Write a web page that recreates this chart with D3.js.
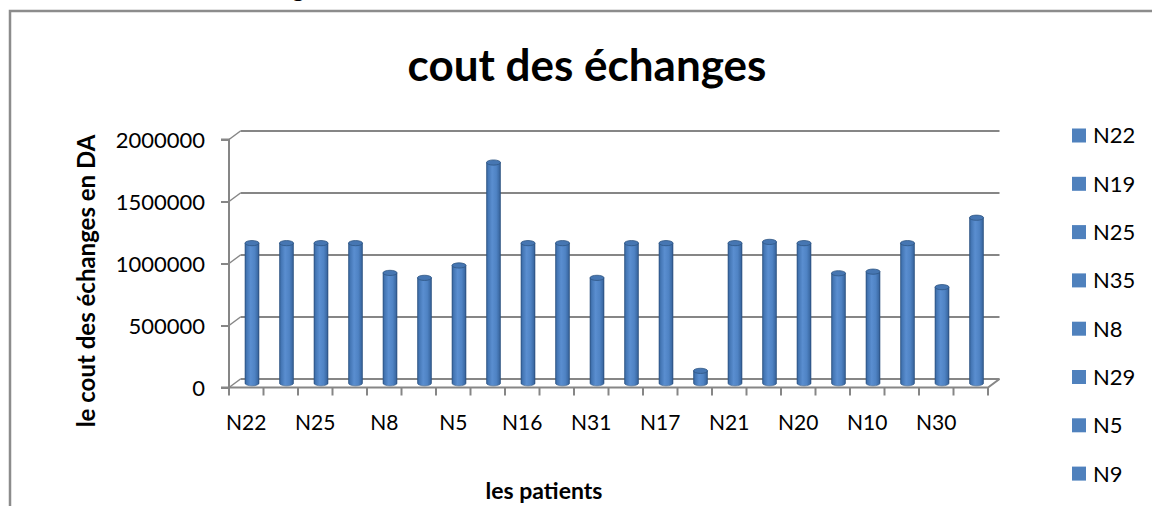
<!DOCTYPE html>
<html>
<head>
<meta charset="utf-8">
<script src="https://cdn.jsdelivr.net/npm/d3@7/dist/d3.min.js"></script>
<style>
  html, body { margin: 0; padding: 0; background: #fff; }
  svg { display: block; font-family: Lato, "Open Sans", sans-serif; }
</style>
</head>
<body>
<svg id="chart" width="1152" height="506"></svg>
<script>
// Patients (one column each) and the cost of their exchanges, in DA
const patients = ["N22", "N19", "N25", "N35", "N8", "N29", "N5", "N9", "N16", "N12",
                  "N31", "N3", "N17", "N27", "N21", "N14", "N20", "N6", "N10", "N2",
                  "N30", "N33"];
const costs = [1130000, 1130000, 1130000, 1130000, 890000, 850000, 950000, 1780000, 1130000, 1130000,
               850000, 1130000, 1130000, 100000, 1130000, 1140000, 1130000, 887000, 900000, 1130000,
               775000, 1335000];
const yTicks = [0, 500000, 1000000, 1500000, 2000000];
const legendItems = patients.slice(0, 8);

const chartTitle = "cout des échanges";
const xTitle = "les patients";
const yTitle = "le cout des échanges en DA";

const svg = d3.select("#chart");
const grid = "#868686";

// 3-D box: front plane, back wall is shifted up and to the right
const depthX = 11.5, depthY = -8.5;
const x = d3.scaleBand().domain(patients).range([229, 988]).paddingInner(0).paddingOuter(0);
const yFront = d3.scaleLinear().domain([0, 2000000]).range([387.5, 139.5]);
const yBack = v => yFront(v) + depthY;
const yMid = v => yFront(v) + depthY / 2;

// outer chart frame
svg.append("path")
  .attr("d", "M10,506 V11 H1152")
  .attr("fill", "none").attr("stroke", "#8c8c8c").attr("stroke-width", 2.5);

// line of document text just above the frame
svg.append("text").attr("x", 292).attr("y", -3)
  .attr("font-size", 24).attr("font-weight", "bold").text("g");

// back wall gridlines
svg.append("g").selectAll("line").data(yTicks).join("line")
  .attr("x1", 229 + depthX).attr("x2", 988 + depthX)
  .attr("y1", d => yBack(d)).attr("y2", d => yBack(d))
  .attr("stroke", grid).attr("stroke-width", 2.2);

// side wall: diagonals from front ticks to back gridlines
svg.append("g").selectAll("line").data(yTicks).join("line")
  .attr("x1", 229).attr("x2", 229 + depthX)
  .attr("y1", d => yFront(d)).attr("y2", d => yBack(d))
  .attr("stroke", grid).attr("stroke-width", 1.5);

// floor front edge and right diagonal
svg.append("path")
  .attr("d", `M229,${yFront(0)} H988 L${988 + depthX},${yBack(0)}`)
  .attr("fill", "none").attr("stroke", grid).attr("stroke-width", 2);

// y axis (front plane)
const yAxis = svg.append("g").attr("transform", "translate(229,0)")
  .call(d3.axisLeft(yFront).tickValues(yTicks).tickSize(8).tickPadding(16).tickFormat(d3.format("d")));
yAxis.select(".domain").attr("stroke", grid).attr("stroke-width", 2).attr("d", `M-8,${yFront(2000000)}H0V${yFront(0)}H-8`);
yAxis.selectAll(".tick line").attr("stroke", grid).attr("stroke-width", 2);
yAxis.selectAll(".tick text").attr("font-size", 22).attr("fill", "#000").attr("font-family", "Lato").attr("dy", "0.36em");

// category boundary ticks
const bounds = patients.map(p => x(p)).concat([x.range()[1]]);
svg.append("g").selectAll("line").data(bounds).join("line")
  .attr("x1", d => d).attr("x2", d => d)
  .attr("y1", yFront(0)).attr("y2", yFront(0) + 8)
  .attr("stroke", grid).attr("stroke-width", 2);

// category labels, every second patient
const xAxis = svg.append("g").attr("transform", `translate(0,${yFront(0)})`)
  .call(d3.axisBottom(x).tickValues(patients.filter((d, i) => i % 2 === 0)).tickSize(0).tickPadding(42));
xAxis.select(".domain").remove();
xAxis.selectAll(".tick text").attr("font-size", 21).attr("fill", "#000").attr("font-family", "Lato").attr("dy", 0);

// cylinder shading
const defs = svg.append("defs");
const grad = defs.append("linearGradient").attr("id", "cyl").attr("x1", "0").attr("x2", "1").attr("y1", "0").attr("y2", "0");
[[0, "#2f5a8e"], [0.12, "#4476b4"], [0.4, "#5a8ed0"], [0.7, "#4f83c4"], [0.9, "#3d6ca7"], [1, "#2c5283"]]
  .forEach(([o, c]) => grad.append("stop").attr("offset", o).attr("stop-color", c));

const bw = 14, ry = 2.6;
const bars = svg.append("g").selectAll("g").data(patients.map((p, i) => ({ p, v: costs[i] }))).join("g");
bars.append("path")
  .attr("d", d => {
    const cx = x(d.p) + x.bandwidth() / 2 + depthX / 2;
    const top = yMid(d.v), bot = yMid(0);
    return `M${cx - bw / 2},${top} V${bot} A${bw / 2},${ry} 0 0 0 ${cx + bw / 2},${bot} V${top} Z`;
  })
  .attr("fill", "url(#cyl)").attr("stroke", "#2f5583").attr("stroke-width", 0.6);
bars.append("ellipse")
  .attr("cx", d => x(d.p) + x.bandwidth() / 2 + depthX / 2)
  .attr("cy", d => yMid(d.v))
  .attr("rx", bw / 2).attr("ry", ry)
  .attr("fill", "#4676b2").attr("stroke", "#2f5583").attr("stroke-width", 0.8);

// chart title
svg.append("text").attr("x", 587).attr("y", 81).attr("text-anchor", "middle")
  .attr("font-size", 44).attr("font-weight", "bold").text(chartTitle);

// axis titles
svg.append("text").attr("x", 544).attr("y", 499).attr("text-anchor", "middle")
  .attr("font-size", 23).attr("font-weight", "bold").text(xTitle);
svg.append("text").attr("transform", "translate(95,281) rotate(-90)").attr("text-anchor", "middle")
  .attr("font-size", 24).attr("font-weight", "bold").text(yTitle);

// legend
const leg = svg.append("g").selectAll("g").data(legendItems).join("g")
  .attr("transform", (d, i) => `translate(1072,${135.5 + i * 48.3})`);
leg.append("rect").attr("x", 0).attr("y", -7).attr("width", 14).attr("height", 14).attr("fill", "#4f81bd");
leg.append("text").attr("x", 21).attr("y", 0).attr("dy", "0.36em")
  .attr("font-size", 22).attr("fill", "#000").text(d => d);
</script>
</body>
</html>
